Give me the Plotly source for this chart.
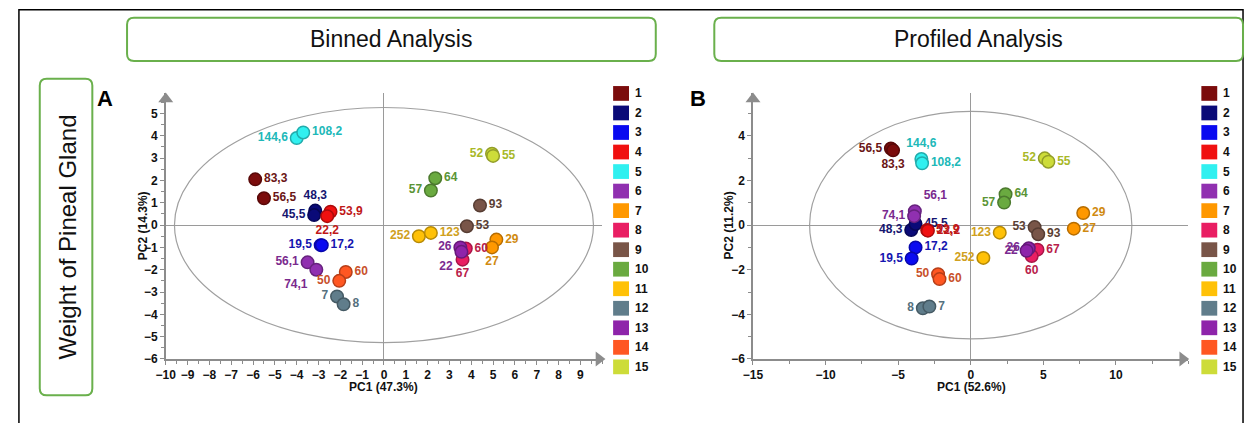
import plotly.graph_objects as go

W, H = 1246, 423

# ---------------- data ----------------
groups = list(range(1, 16))
group_colors = ["#7B0C0C", "#0A0A78", "#0A0AF0", "#F01010", "#30F0F0", "#9030B0", "#FF9800",
                "#E91E63", "#795548", "#6AAA40", "#FFC107", "#607D8B", "#8E24AA", "#FF5722", "#CDDC39"]
label_colors = ["#6A1515", "#151570", "#1515B0", "#C01818", "#20B8B8", "#7A2A8E", "#D08A10",
                "#B8204A", "#5A4034", "#5A9435", "#D0A020", "#55707E", "#7A2A90", "#C8502A", "#A8B828"]

# Panel A (Binned Analysis)
A_group = [5, 5, 1, 1, 2, 2, 4, 4, 3, 3, 6, 6, 14, 14, 12, 12, 15, 15, 10, 10, 9, 9, 11, 11, 7, 7, 13, 13, 8, 8]
A_label = ["144,6", "108,2", "83,3", "56,5", "48,3", "45,5", "53,9", "22,2", "19,5", "17,2", "56,1", "74,1",
           "60", "50", "7", "8", "52", "55", "64", "57", "93", "53", "252", "123", "29", "27", "26", "22", "60", "67"]
A_x = [-4.0, -3.7, -5.9, -5.5, -3.15, -3.2, -2.45, -2.6, -2.9, -2.85, -3.5, -3.1, -1.75, -2.05, -2.15, -1.85,
       4.95, 5.0, 2.35, 2.15, 4.4, 3.8, 1.6, 2.15, 5.15, 4.95, 3.5, 3.55, 3.75, 3.6]
A_y = [3.9, 4.15, 2.05, 1.2, 0.65, 0.45, 0.6, 0.4, -0.9, -0.9, -1.67, -2.0, -2.1, -2.5, -3.2, -3.55,
       3.2, 3.1, 2.1, 1.55, 0.88, -0.05, -0.5, -0.35, -0.65, -1.0, -1.0, -1.2, -1.05, -1.55]
A_pos = ["middle left", "middle right", "middle right", "middle right", "top center", "middle left",
         "middle right", "bottom center", "middle left", "middle right", "middle left", "bottom left",
         "middle right", "middle left", "middle left", "middle right", "middle left", "middle right",
         "middle right", "middle left", "middle right", "middle right", "middle left", "middle right",
         "middle right", "bottom center", "middle left", "bottom left", "middle right", "bottom center"]

# Panel B (Profiled Analysis)
B_group = [1, 1, 5, 5, 6, 6, 2, 2, 4, 4, 3, 3, 14, 14, 12, 12, 15, 15, 10, 10, 7, 7, 9, 9, 11, 11, 13, 13, 8, 8]
B_label = ["56,5", "83,3", "144,6", "108,2", "56,1", "74,1", "48,3", "45,5", "53,9", "22,2", "17,2", "19,5",
           "50", "60", "8", "7", "52", "55", "64", "57", "29", "27", "53", "93", "123", "252", "26", "22", "67", "60"]
B_x = [-5.5, -5.35, -3.4, -3.35, -3.85, -3.9, -4.1, -3.8, -3.0, -2.95, -3.8, -4.07, -2.25, -2.15, -3.3, -2.85,
       5.1, 5.35, 2.4, 2.3, 7.75, 7.1, 4.4, 4.65, 2.0, 0.87, 4.0, 3.85, 4.6, 4.2]
B_y = [3.43, 3.35, 2.96, 2.77, 0.62, 0.4, -0.22, 0.05, -0.22, -0.25, -1.0, -1.5, -2.2, -2.42, -3.73, -3.65,
       2.99, 2.84, 1.38, 1.01, 0.54, -0.16, -0.09, -0.41, -0.34, -1.47, -1.04, -1.15, -1.1, -1.39]
B_pos = ["middle left", "bottom center", "top center", "middle right", "top right", "middle left",
         "middle left", "middle right", "middle right", "middle right", "middle right", "middle left",
         "middle left", "middle right", "middle left", "middle right", "middle left", "middle right",
         "middle right", "middle left", "middle right", "middle right", "middle left", "middle right",
         "middle left", "middle left", "middle left", "middle left", "middle right", "bottom center"]

A_xticks = list(range(-10, 10))
A_yticks = list(range(-6, 6))
B_xticks = [-15, -10, -5, 0, 5, 10]
B_yticks = [-6, -4, -2, 0, 2, 4]

# ---------------- helpers ----------------
def px(x):
    return x / W

def py(y):
    return 1 - y / H

def darker(hexc, f=0.72):
    h = hexc.lstrip("#")
    r, g, b = int(h[0:2], 16), int(h[2:4], 16), int(h[4:6], 16)
    return "#%02x%02x%02x" % (int(r * f), int(g * f), int(b * f))

def rounded_rect(x0, y0, x1, y1, r):
    pts = [
        ("M", [(x0 + r, y0)]), ("L", [(x1 - r, y0)]), ("Q", [(x1, y0), (x1, y0 + r)]),
        ("L", [(x1, y1 - r)]), ("Q", [(x1, y1), (x1 - r, y1)]), ("L", [(x0 + r, y1)]),
        ("Q", [(x0, y1), (x0, y1 - r)]), ("L", [(x0, y0 + r)]), ("Q", [(x0, y0), (x0 + r, y0)]),
    ]
    s = ""
    for cmd, ps in pts:
        s += cmd + " " + " ".join("%.5f,%.5f" % (px(a), py(b)) for a, b in ps) + " "
    return s + "Z"

FONT = "Liberation Sans, Arial, sans-serif"
AXIS_GREY = "#8c8c8c"

fig = go.Figure()

panels = [
    dict(xa="x", ya="y", gx=A_group, lab=A_label, xs=A_x, ys=A_y, pos=A_pos),
    dict(xa="x2", ya="y2", gx=B_group, lab=B_label, xs=B_x, ys=B_y, pos=B_pos),
]

for p in panels:
    for g in groups:
        idx = [i for i, gg in enumerate(p["gx"]) if gg == g]
        if not idx:
            continue
        c = group_colors[g - 1]
        fig.add_trace(go.Scatter(
            x=[p["xs"][i] for i in idx], y=[p["ys"][i] for i in idx],
            text=[p["lab"][i] for i in idx], textposition=[p["pos"][i] for i in idx],
            mode="markers+text", xaxis=p["xa"], yaxis=p["ya"], showlegend=False,
            marker=dict(size=12.5, color=c, line=dict(color=darker(c), width=1.5)),
            textfont=dict(family=FONT, size=12, color=label_colors[g - 1], weight="bold"),
            cliponaxis=False, hoverinfo="skip"))

# axis arrowheads
fig.add_trace(go.Scatter(x=[9.85], y=[-6], mode="markers", xaxis="x", yaxis="y", showlegend=False,
                         marker=dict(symbol="triangle-right", size=13, color=AXIS_GREY), cliponaxis=False, hoverinfo="skip"))
fig.add_trace(go.Scatter(x=[-10], y=[5.65], mode="markers", xaxis="x", yaxis="y", showlegend=False,
                         marker=dict(symbol="triangle-up", size=13, color=AXIS_GREY), cliponaxis=False, hoverinfo="skip"))
fig.add_trace(go.Scatter(x=[14.6], y=[-6], mode="markers", xaxis="x2", yaxis="y2", showlegend=False,
                         marker=dict(symbol="triangle-right", size=13, color=AXIS_GREY), cliponaxis=False, hoverinfo="skip"))
fig.add_trace(go.Scatter(x=[-15], y=[5.65], mode="markers", xaxis="x2", yaxis="y2", showlegend=False,
                         marker=dict(symbol="triangle-up", size=13, color=AXIS_GREY), cliponaxis=False, hoverinfo="skip"))

tickfont = dict(family=FONT, size=12, color="#111", weight="bold")

def axis(dom, rng, tv, minor_dt):
    return dict(domain=dom, range=rng, tickvals=tv, showgrid=False, zeroline=True, zerolinecolor="#9a9a9a",
                zerolinewidth=1, showline=True, linecolor=AXIS_GREY, linewidth=1.5, ticks="outside",
                ticklen=4, tickcolor=AXIS_GREY, tickfont=tickfont, fixedrange=True,
                minor=dict(dtick=minor_dt, tick0=0, ticks="outside", ticklen=3, tickcolor=AXIS_GREY))

yA_dom = [py(365), py(95)]
fig.update_layout(
    width=W, height=H, margin=dict(l=0, r=0, t=0, b=0), autosize=False,
    paper_bgcolor="white", plot_bgcolor="white", showlegend=False,
    xaxis=dict(axis([px(157), px(597)], [-10, 10], A_xticks, 0.5), anchor="y"),
    yaxis=dict(axis(yA_dom, [-6, 5.9], A_yticks, 0.5), anchor="x"),
    xaxis2=dict(axis([px(749), px(1188)], [-15, 15], B_xticks, 2.5), anchor="y2"),
    yaxis2=dict(axis(yA_dom, [-6, 5.9], B_yticks, 1), anchor="x2"),
)

# ellipses
fig.add_shape(type="circle", xref="x", yref="y", x0=-9.6, x1=9.6, y0=-5.27, y1=5.27,
              line=dict(color="#a0a0a0", width=1.2), layer="below")
fig.add_shape(type="circle", xref="x2", yref="y2", x0=-11.1, x1=11.1, y0=-5.1, y1=5.1,
              line=dict(color="#a0a0a0", width=1.2), layer="below")

# outer frame
fig.add_shape(type="rect", xref="paper", yref="paper", x0=px(9), x1=px(1243), y0=py(440), y1=py(10),
              line=dict(color="black", width=1.5))

# title boxes
GREEN = "#6AB04C"
for (x0, x1, txt) in [(118, 651, "Binned Analysis"), (710, 1243, "Profiled Analysis")]:
    fig.add_shape(type="path", xref="paper", yref="paper", path=rounded_rect(x0, 18, x1, 62, 7),
                  line=dict(color=GREEN, width=2))
    fig.add_annotation(x=px((x0 + x1) / 2), y=py(40), xref="paper", yref="paper", text=txt, showarrow=False,
                       font=dict(family=FONT, size=23, color="#111"), xanchor="center", yanchor="middle")

fig.add_shape(type="path", xref="paper", yref="paper", path=rounded_rect(30, 80, 83, 402, 7),
              line=dict(color=GREEN, width=2))
fig.add_annotation(x=px(57), y=py(241), xref="paper", yref="paper", text="Weight of Pineal Gland", textangle=-90,
                   showarrow=False, font=dict(family=FONT, size=24, color="#111"), xanchor="center", yanchor="middle")

# panel letters
for x, t in [(96, "A"), (694, "B")]:
    fig.add_annotation(x=px(x), y=py(100), xref="paper", yref="paper", text="<b>%s</b>" % t, showarrow=False,
                       font=dict(family=FONT, size=22, color="black"), xanchor="center", yanchor="middle")

# axis titles
axfont = dict(family=FONT, size=12, color="#111", weight="bold")
for x, t in [(377, "PC1 (47.3%)"), (969, "PC1 (52.6%)")]:
    fig.add_annotation(x=px(x), y=py(394), xref="paper", yref="paper", text=t, showarrow=False, font=axfont,
                       xanchor="center", yanchor="middle")
for x, t in [(134, "PC2 (14.3%)"), (725, "PC2 (11.2%)")]:
    fig.add_annotation(x=px(x), y=py(229), xref="paper", yref="paper", text=t, textangle=-90, showarrow=False,
                       font=axfont, xanchor="center", yanchor="middle")

# legends
for lx in [608, 1201]:
    for i, g in enumerate(groups):
        cy = 95 + 19.86 * i
        fig.add_shape(type="rect", xref="paper", yref="paper", x0=px(lx), x1=px(lx + 16), y0=py(cy + 7.5),
                      y1=py(cy - 7.5), fillcolor=group_colors[g - 1], line=dict(width=0))
        fig.add_annotation(x=px(lx + 20), y=py(cy), xref="paper", yref="paper", text=str(g), showarrow=False,
                           font=dict(family=FONT, size=12, color="#111", weight="bold"),
                           xanchor="left", yanchor="middle")

fig.write_html("out.html",
               post_script="document.body.style.margin='0px';document.body.style.overflow='hidden';")
